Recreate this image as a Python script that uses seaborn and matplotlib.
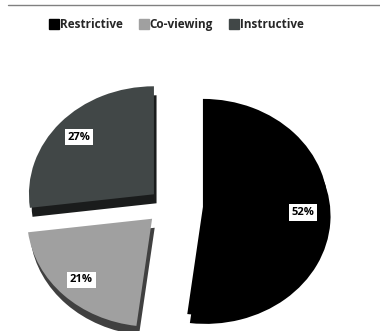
import matplotlib
matplotlib.use("Agg")
import matplotlib.pyplot as plt
import seaborn as sns
from matplotlib.lines import Line2D

# Parenting style shares
styles = ["Restrictive", "Co-viewing", "Instructive"]
shares = [52, 21, 27]
colors = ["#000000", "#a0a0a0", "#414747"]
explode = [0.28, 0.18, 0.15]

sns.set_theme(style="white")
plt.rcParams["font.family"] = ["Open Sans", "DejaVu Sans"]

fig = plt.figure(figsize=(3.8, 3.31), dpi=100)
ax = fig.add_axes([0, 0, 1, 1])

wedges, texts, autotexts = ax.pie(
    shares, colors=colors, explode=explode, startangle=90, counterclock=False,
    autopct="%d%%", pctdistance=0.8,
    shadow={"ox": 0.015, "oy": -0.06, "shade": 0.6, "alpha": 1.0},
    wedgeprops={"linewidth": 0},
    textprops={"fontsize": 8, "fontweight": "bold", "color": "black"},
)
for t in autotexts:
    t.set_bbox(dict(facecolor="white", edgecolor="none", pad=2.0))

# stretch to the squashed look of the original and place the pie
ax.set_aspect("auto")
ax.set_xlim(-168 / 125, (380 - 168) / 125)
ax.set_ylim(-(331 - 205) / 108, 205 / 108)
ax.axis("off")

handles = [Line2D([], [], marker="s", linestyle="none", markersize=6.5,
                  markerfacecolor=c, markeredgecolor=c) for c in colors]
fig.legend(handles, styles, loc="center", bbox_to_anchor=(0.466, 0.925), ncol=3,
           frameon=False, handlelength=0.6, handletextpad=0.2, columnspacing=1.5,
           prop={"size": 8.5, "weight": "bold"})

# thin rule across the top
fig.add_artist(Line2D([0.02, 1.0], [0.985, 0.985], color="#808080", linewidth=1.0))

fig.savefig("out.png", dpi=100)
